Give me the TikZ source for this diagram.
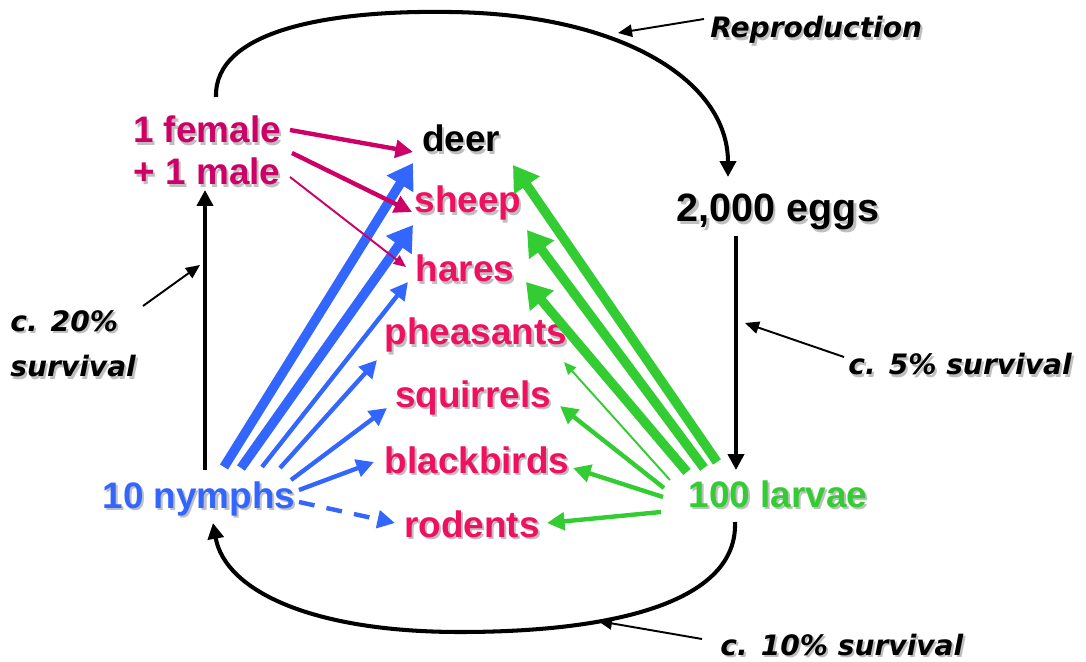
\documentclass[tikz,border=0pt]{standalone}
\usepackage{fontspec}
\setmainfont{Liberation Sans}
\newfontfamily\notefont{DejaVu Sans}
\usetikzlibrary{arrows.meta}
\definecolor{pairpink}{HTML}{CC0066}
\definecolor{hostred}{HTML}{EE1160}
\definecolor{nymphblue}{HTML}{3366FF}
\definecolor{larvagreen}{HTML}{33CC33}
\newcommand{\shadowed}[1]{\makebox[0pt][l]{\kern1.2pt\raisebox{-1.2pt}{\color{black!25}#1}}#1}
\tikzset{
  stage label/.style={font=\bfseries\fontsize{21}{25}\selectfont,inner sep=0pt,anchor=base},
  host label/.style={stage label,text=hostred},
  note label/.style={font=\notefont\bfseries\itshape\fontsize{16}{26}\selectfont,inner sep=0pt,anchor=base west},
  cycle arrow/.style={line width=2.3pt,-{Triangle[length=9pt,width=9pt]}},
  note arrow/.style={line width=1.1pt,-{Triangle[length=8pt,width=7pt]}},
  feed heavy/.style={line width=5.4pt,-{Triangle[length=14pt,width=17pt]}},
  feed mid/.style={line width=2.5pt,-{Triangle[length=10pt,width=10pt]}},
  feed light/.style={line width=1.1pt,-{Triangle[length=7pt,width=6pt]}}
}

\begin{document}
\begin{tikzpicture}[x=0.02cm,y=-0.02cm]
  \useasboundingbox (0,0) rectangle (1086,662);

  % tick stages
  \node[stage label,text=pairpink] (female) at (207,143) {\shadowed{1 female}};
  \node[stage label,text=pairpink] (male) at (207,185) {\shadowed{+ 1 male}};
  \node[stage label,font=\bfseries\fontsize{22.5}{27}\selectfont] (eggs) at (778,222) {\shadowed{2,000 eggs}};
  \node[stage label,text=larvagreen] (larvae) at (778,507) {\shadowed{100 larvae}};
  \node[stage label,text=nymphblue] (nymphs) at (199,508) {\shadowed{10 nymphs}};

  % hosts
  \node[stage label] (deer) at (461,152) {\shadowed{deer}};
  \node[host label] (sheep) at (468,213) {\shadowed{sheep}};
  \node[host label] (hares) at (465,282) {\shadowed{hares}};
  \node[host label] (pheasants) at (476,345) {\shadowed{pheasants}};
  \node[host label] (squirrels) at (473,407) {\shadowed{squirrels}};
  \node[host label] (blackbirds) at (477,473) {\shadowed{blackbirds}};
  \node[host label] (rodents) at (472,537) {\shadowed{rodents}};

  % notes
  \node[note label] (repro) at (710,38) {\shadowed{Reproduction}};
  \node[note label,align=left,anchor=north west] (surv20) at (10,310) {\shadowed{c. 20\%}\\\shadowed{survival}};
  \node[note label] (surv5) at (848,375) {\shadowed{c. 5\% survival}};
  \node[note label] (surv10) at (720,655) {\shadowed{c. 10\% survival}};

  % life cycle
  \draw[cycle arrow] ([shift={(9,-46)}]female.base) .. controls (214,30) and (330,10) .. (450,12)
    .. controls (620,14) and (728,80) .. ([shift={(-50,-45)}]eggs.base);
  \draw[cycle arrow] ([shift={(-42,14)}]eggs.base) -- ([shift={(-42,-37)}]larvae.base);
  \draw[cycle arrow] ([shift={(-43,15)}]larvae.base) .. controls (738,600) and (620,632) .. (460,632)
    .. controls (310,632) and (225,590) .. ([shift={(14,15)}]nymphs.base);
  \draw[cycle arrow] ([shift={(6,-38)}]nymphs.base) -- ([shift={(-2,5)}]male.base);

  \coordinate (reprotip) at (618,33);
  \coordinate (surv20tip) at (200,265);
  \coordinate (surv5tip) at (745,323);
  \coordinate (surv10tip) at (598,621);
  \draw[note arrow] ([shift={(-6,-19)}]repro.base west) -- (reprotip);
  \draw[note arrow] ([shift={(133,-4)}]surv20.north west) -- (surv20tip);
  \draw[note arrow] ([shift={(-4,-18)}]surv5.base west) -- (surv5tip);
  \draw[note arrow] ([shift={(-18,-16)}]surv10.base west) -- (surv10tip);

  % nymphs feed
  \draw[nymphblue,feed heavy] ([shift={(25,-41)}]nymphs.base) -- ([shift={(-48,11)}]deer.base);
  \draw[nymphblue,feed heavy] ([shift={(42,-40)}]nymphs.base) -- ([shift={(-55,12)}]sheep.base);
  \draw[nymphblue,feed mid] ([shift={(63,-41)}]nymphs.base) -- ([shift={(-57,0)}]hares.base);
  \draw[nymphblue,feed mid] ([shift={(81,-40)}]nymphs.base) -- ([shift={(-99,15)}]pheasants.base);
  \draw[nymphblue,feed mid] ([shift={(92,-28)}]nymphs.base) -- ([shift={(-86,1)}]squirrels.base);
  \draw[nymphblue,feed mid] ([shift={(100,-18)}]nymphs.base) -- ([shift={(-103,-11)}]blackbirds.base);
  \draw[nymphblue,feed mid,dash pattern=on 9pt off 7pt] ([shift={(100,-6)}]nymphs.base) -- ([shift={(-77,-14)}]rodents.base);

  % adults feed
  \draw[pairpink,feed mid] ([shift={(83,-13)}]female.base) -- ([shift={(-48,0)}]deer.base);
  \draw[pairpink,feed mid] ([shift={(85,10)}]female.base) -- ([shift={(-56,-1)}]sheep.base);
  \draw[pairpink,feed light] ([shift={(83,-8)}]male.base) -- ([shift={(-59,-15)}]hares.base);

  % larvae feed
  \draw[larvagreen,feed heavy] ([shift={(-61,-45)}]larvae.base) -- ([shift={(52,13)}]deer.base);
  \draw[larvagreen,feed heavy] ([shift={(-74,-39)}]larvae.base) -- ([shift={(59,17)}]sheep.base);
  \draw[larvagreen,feed heavy] ([shift={(-91,-35)}]larvae.base) -- ([shift={(61,0)}]hares.base);
  \draw[larvagreen,feed light] ([shift={(-108,-27)}]larvae.base) -- ([shift={(88,17)}]pheasants.base);
  \draw[larvagreen,feed mid] ([shift={(-114,-19)}]larvae.base) -- ([shift={(87,-1)}]squirrels.base);
  \draw[larvagreen,feed mid] ([shift={(-115,-10)}]larvae.base) -- ([shift={(96,-5)}]blackbirds.base);
  \draw[larvagreen,feed mid] ([shift={(-117,5)}]larvae.base) -- ([shift={(75,-14)}]rodents.base);
\end{tikzpicture}
\end{document}
